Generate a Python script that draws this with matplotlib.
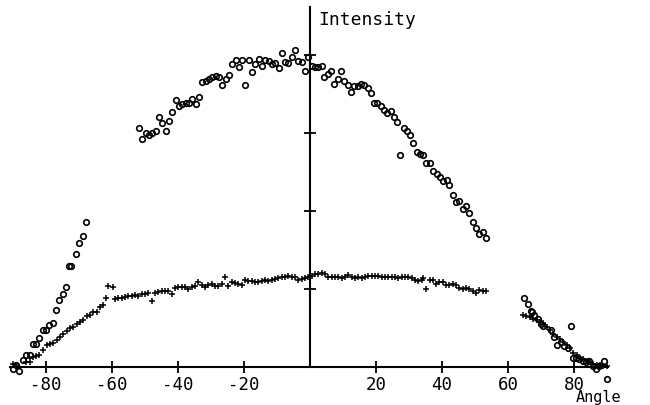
import matplotlib
matplotlib.use("Agg")
import matplotlib.pyplot as plt

# ---- data ----
circle_angle = [-90.1, -89.1, -88.1, -87.0, -86.0, -85.0, -84.0, -83.0, -82.0, -81.0, -80.0, -79.0, -78.0,
                -77.0, -76.0, -75.0, -74.0, -73.0, -72.4, -70.9, -69.9, -68.9, -67.9,
                -51.8, -50.8, -49.8, -48.8, -47.8, -46.8, -45.8, -44.8, -43.7, -42.7, -41.7, -40.7,
                -39.7, -38.7, -37.7, -36.7, -35.7, -34.6, -33.6, -32.6, -31.6, -30.6, -29.6, -28.6,
                -27.6, -26.6, -25.6, -24.5, -23.5, -22.5, -21.5, -20.5, -19.7, -18.5, -17.6, -16.6,
                -15.6, -14.5, -13.5, -12.5, -11.5, -10.5, -9.5, -8.6, -7.6, -6.6, -5.6, -4.5, -3.5,
                -2.5, -1.5, -0.5, 0.5, 1.5, 2.5, 3.5, 4.3, 5.4, 6.4, 7.4, 8.4, 9.4, 10.4, 11.4, 12.4,
                13.4, 14.5, 15.5, 16.5, 17.5, 18.4, 19.4, 20.4, 21.4, 22.4, 23.4, 24.5, 25.5, 26.4,
                27.3, 28.4, 29.4, 30.4, 31.3, 32.3, 33.3, 34.3, 35.3, 36.4, 37.4, 38.4, 39.4, 40.4,
                41.4, 42.2, 43.2, 44.2, 45.2, 46.3, 47.3, 48.3, 49.3, 50.3, 51.3, 52.3, 53.3,
                64.9, 66.2, 67.0, 67.4, 68.0, 69.0, 70.0, 70.7, 73.0, 74.0, 75.0, 76.0, 77.0, 78.1,
                79.1, 79.6, 80.6, 81.6, 82.6, 83.6, 84.6, 85.7, 86.7, 87.7, 89.1, 89.9]
circle_intensity = [-0.02, 0.03, -0.05, 0.09, 0.16, 0.15, 0.29, 0.30, 0.37, 0.47, 0.48, 0.54, 0.57,
                    0.73, 0.86, 0.94, 1.03, 1.29, 1.29, 1.45, 1.59, 1.68, 1.86,
                    3.06, 2.92, 3.00, 2.98, 3.00, 3.02, 3.21, 3.13, 3.03, 3.15, 3.27, 3.42,
                    3.34, 3.37, 3.38, 3.38, 3.43, 3.37, 3.46, 3.65, 3.66, 3.69, 3.72, 3.73,
                    3.72, 3.61, 3.69, 3.74, 3.88, 3.93, 3.85, 3.93, 3.61, 3.93, 3.78, 3.89,
                    3.95, 3.86, 3.94, 3.92, 3.88, 3.90, 3.83, 4.03, 3.91, 3.90, 3.97, 4.06, 3.92,
                    3.91, 3.79, 3.98, 3.86, 3.85, 3.85, 3.86, 3.72, 3.76, 3.80, 3.63, 3.69, 3.79, 3.66, 3.62, 3.53,
                    3.60, 3.60, 3.63, 3.61, 3.58, 3.51, 3.38, 3.39, 3.34, 3.29, 3.26, 3.28, 3.21, 3.14,
                    2.72, 3.06, 3.03, 2.97, 2.87, 2.75, 2.73, 2.72, 2.62, 2.61, 2.51, 2.47, 2.44, 2.39,
                    2.40, 2.33, 2.20, 2.12, 2.13, 2.03, 2.06, 1.97, 1.86, 1.78, 1.71, 1.73, 1.65,
                    0.89, 0.81, 0.72, 0.70, 0.67, 0.61, 0.55, 0.53, 0.47, 0.38, 0.28, 0.32, 0.27, 0.25,
                    0.52, 0.12, 0.11, 0.10, 0.08, 0.06, 0.08, 0.01, -0.02, 0.01, 0.08, -0.15]

plus_angle = [-90.0, -89.0, -86.0, -85.0, -84.0, -83.0, -82.0, -81.0,
              -79.8, -78.8, -77.8, -76.8, -75.8, -74.8, -73.7, -72.7, -71.7, -70.7, -69.7, -68.7,
              -67.7, -66.7, -65.7, -64.6, -63.6, -62.6, -61.8, -61.1, -59.8,
              -59.1, -58.1, -57.1, -56.1, -55.1, -54.0, -53.0, -52.0, -51.0, -50.0, -49.0, -48.0,
              -47.0, -46.0, -44.9, -43.9, -42.9, -41.9,
              -40.9, -39.9, -38.9, -37.9, -36.9, -35.8, -34.8, -33.8, -32.8, -31.8, -30.8, -29.8,
              -28.8, -27.8, -26.8, -25.8, -24.7, -23.7, -22.7, -21.7, -20.7,
              -19.7, -18.7, -17.7, -16.7, -15.7, -14.6, -13.6, -12.6, -11.6, -10.6, -9.6, -8.6,
              -7.6, -6.6, -5.6, -4.5, -3.5, -2.5, -1.5, -0.5, 0.5, 1.5, 2.5, 3.5, 4.5,
              5.5, 6.6, 7.6, 8.6, 9.6, 10.6, 11.6, 12.6, 13.6, 14.6, 15.7, 16.7, 17.7, 18.7, 19.7,
              20.7, 21.7, 22.7, 23.7, 24.7, 25.8, 26.8, 27.8, 28.8, 29.8, 30.8, 31.8, 32.8, 33.8,
              34.3, 35.2, 36.4, 37.4, 38.2, 39.2, 40.2, 41.2, 42.2, 43.2, 44.2,
              45.2, 46.3, 47.3, 48.3, 49.3, 50.3, 51.3, 52.3, 53.3,
              64.4, 65.6, 66.7, 67.7, 68.7, 69.7, 70.7, 71.7, 72.7, 73.7, 74.7, 75.8, 76.8, 77.8,
              78.8, 79.8, 80.8, 81.8, 82.8, 83.8, 84.8, 85.9, 86.9, 87.9, 88.9, 89.9]
plus_intensity = [0.04, 0.03, 0.07, 0.07, 0.13, 0.14, 0.15, 0.22,
                  0.28, 0.29, 0.31, 0.34, 0.39, 0.42, 0.46, 0.50, 0.51, 0.55, 0.58, 0.60,
                  0.65, 0.67, 0.70, 0.71, 0.77, 0.80, 0.88, 1.04, 1.02,
                  0.87, 0.88, 0.89, 0.90, 0.91, 0.91, 0.92, 0.91, 0.93, 0.94, 0.95, 0.84,
                  0.95, 0.96, 0.97, 0.98, 0.97, 0.94,
                  1.01, 1.03, 1.02, 1.02, 1.00, 1.02, 1.04, 1.09, 1.05, 1.03, 1.05, 1.06,
                  1.04, 1.04, 1.06, 1.15, 1.04, 1.09, 1.08, 1.06, 1.05,
                  1.12, 1.10, 1.10, 1.09, 1.09, 1.10, 1.11, 1.10, 1.12, 1.13, 1.14, 1.15,
                  1.16, 1.17, 1.16, 1.15, 1.12, 1.13, 1.14, 1.16, 1.17, 1.19, 1.19, 1.20, 1.19,
                  1.16, 1.16, 1.16, 1.16, 1.14, 1.16, 1.18, 1.16, 1.14, 1.15, 1.14, 1.16, 1.17, 1.17, 1.17,
                  1.17, 1.16, 1.16, 1.15, 1.15, 1.15, 1.14, 1.15, 1.16, 1.15, 1.14, 1.12, 1.10, 1.12,
                  1.14, 1.00, 1.11, 1.12, 1.06, 1.09, 1.09, 1.05, 1.05, 1.06, 1.05,
                  1.01, 1.00, 1.01, 1.00, 0.98, 0.95, 0.99, 0.97, 0.97,
                  0.67, 0.66, 0.64, 0.62, 0.60, 0.58, 0.56, 0.51, 0.47, 0.42, 0.39, 0.36, 0.32, 0.28,
                  0.25, 0.18, 0.15, 0.12, 0.10, 0.08, 0.07, 0.04, 0.03, 0.03, 0.01, 0.01]

x_ticks = [-80, -60, -40, -20, 20, 40, 60, 80]
y_ticks = [1, 2, 3, 4]
x_label = "Angle"
y_label = "Intensity"

# ---- figure ----
W, H = 650, 406
fig = plt.figure(figsize=(W / 100, H / 100), dpi=100)
fig.patch.set_facecolor("white")
ax = fig.add_axes([10 / W, 16 / H, 600 / W, 382 / H])
ax.set_xlim(-90.91, 90.91)
ax.set_ylim(-0.282, 4.615)

ax.plot(circle_angle, circle_intensity, linestyle="none", marker="o", markersize=4.0,
        markerfacecolor="none", markeredgecolor="black", markeredgewidth=1.2, clip_on=False)
ax.plot(plus_angle, plus_intensity, linestyle="none", marker="+", markersize=5,
        color="black", markeredgewidth=1.1, clip_on=False)

for s in ["top", "right"]:
    ax.spines[s].set_visible(False)
ax.spines["left"].set_position(("data", 0))
ax.spines["bottom"].set_position(("data", 0))
ax.spines["left"].set_bounds(0, 4.615)
ax.spines["bottom"].set_bounds(-90.9, 90.3)
for s in ["left", "bottom"]:
    ax.spines[s].set_linewidth(1.5)
    ax.spines[s].set_color("black")

mono = "DejaVu Sans Mono"
ax.set_xticks(x_ticks)
ax.set_xticklabels([str(t) for t in x_ticks], family=mono, fontsize=12.5)
ax.set_yticks(y_ticks)
ax.set_yticklabels([])
ax.tick_params(axis="x", direction="inout", length=9, width=1.3, pad=1)
ax.tick_params(axis="y", direction="inout", length=8, width=1.3)

fig.text(318 / W, 1 - 20 / H, y_label, family=mono, fontsize=13, ha="left", va="center")
fig.text(576 / W, 1 - 390 / H, x_label, family=mono, fontsize=11, ha="left", va="top")

fig.savefig("out.png", dpi=100, facecolor="white")
